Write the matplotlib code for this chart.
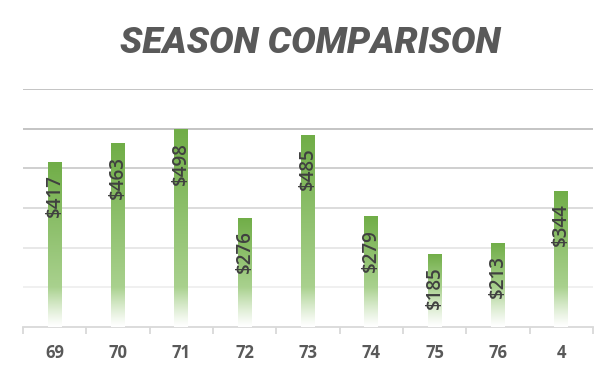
import numpy as np
import matplotlib
matplotlib.use('Agg')
import matplotlib.pyplot as plt
from matplotlib.colors import to_rgb

seasons = ['69', '70', '71', '72', '73', '74', '75', '76', '4']
amounts = [417, 463, 498, 276, 485, 279, 185, 213, 344]
grid_vals = [100, 200, 300, 400, 500, 600]

fig = plt.figure(figsize=(6.16, 3.77), dpi=100)
ax = fig.add_axes([0.0373, 0.1326, 0.9254, 0.6314])

x = np.arange(len(seasons))
bars = ax.bar(x, amounts, width=0.22, color='none', edgecolor='none', zorder=3)

# gradient fill: dark green top -> light green -> white at the bottom
dark = np.array(to_rgb('#70ad47'))
light = np.array(to_rgb('#a9d18e'))
white = np.array([1.0, 1.0, 1.0])
fade = 100.0
for b, h in zip(bars, amounts):
    v = np.linspace(0, h, 300)
    col = np.zeros((len(v), 3))
    for i, vi in enumerate(v):
        if vi >= fade:
            t = (vi - fade) / max(h - fade, 1)
            col[i] = light + (dark - light) * t
        else:
            t = vi / fade
            col[i] = white + (light - white) * t ** 1.2
    img = col[::-1][:, None, :]
    x0 = b.get_x()
    im = ax.imshow(img, extent=[x0, x0 + b.get_width(), 0, h], aspect='auto',
                   interpolation='bilinear', zorder=3)
    im.set_clip_path(b)

for xi, h in zip(x, amounts):
    ax.annotate(f'${h}', (xi, h), xytext=(0, -9), textcoords='offset points',
                rotation=90, ha='center', va='top', fontsize=13.5,
                fontweight='semibold', color='#404040', family='Open Sans',
                zorder=4)

grid_cols = ['#efefef', '#e6e6e6', '#d9d9d9', '#cccccc', '#bfbfbf', '#bfbfbf']
for g, c in zip(grid_vals, grid_cols):
    ax.axhline(g, color=c, lw=1.3, zorder=1)

ax.set_xlim(-0.5, len(seasons) - 0.5)
ax.set_ylim(0, 600)
ax.set_yticks([])
ax.set_xticks(x)
ax.set_xticklabels(seasons, fontsize=12, fontweight='bold', color='#595959',
                   family='Open Sans')
ax.tick_params(axis='x', length=0, pad=12)
ax.set_xticks(np.arange(len(seasons) + 1) - 0.5, minor=True)
ax.tick_params(axis='x', which='minor', length=5, color='#d9d9d9', width=1.3)
for s in ['top', 'right', 'left']:
    ax.spines[s].set_visible(False)
ax.spines['bottom'].set_color('#d9d9d9')
ax.spines['bottom'].set_linewidth(1.3)

fig.text(0.503, 0.886, 'SEASON COMPARISON', ha='center', va='center',
         fontsize=26.5, fontweight='black', fontstyle='italic', color='#595959',
         family=['Roboto', 'DejaVu Sans'])

plt.savefig('out.png', dpi=100)
